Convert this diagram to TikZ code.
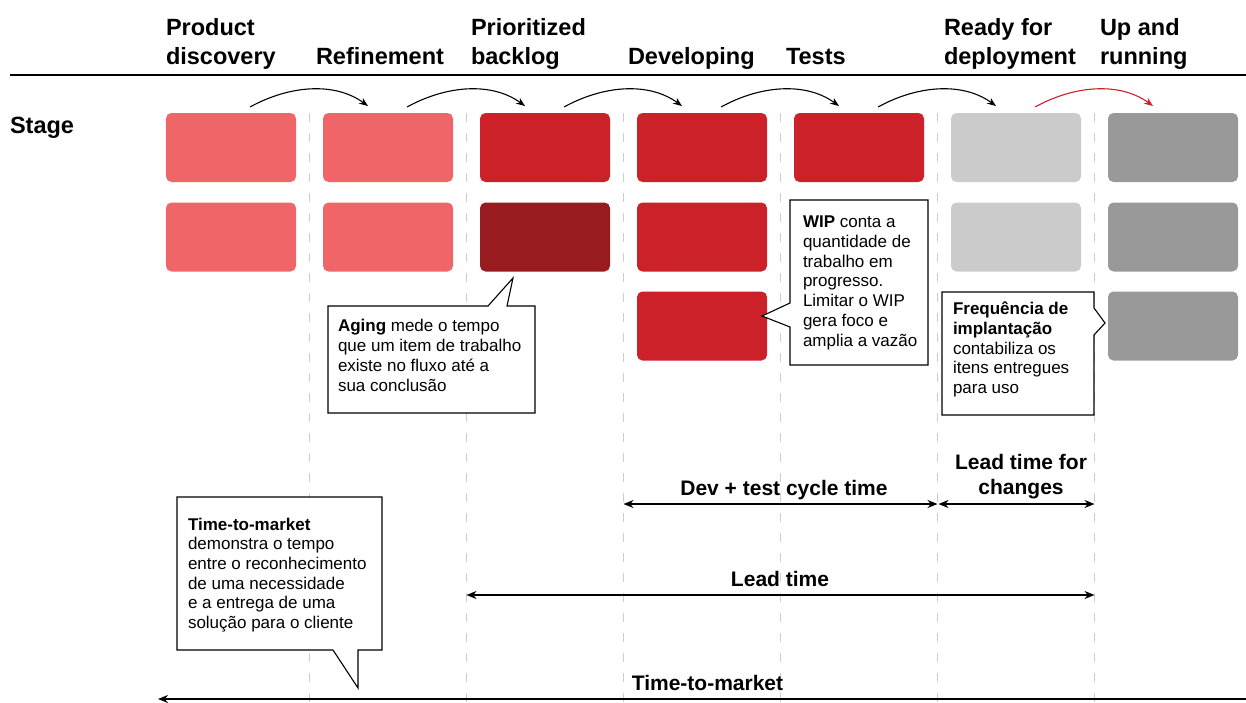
\documentclass[tikz,border=0pt]{standalone}
\usepackage{fontspec}
\setmainfont{Liberation Sans}
\usetikzlibrary{arrows.meta}

\definecolor{cardpink}{HTML}{F06668}
\definecolor{cardred}{HTML}{CC2129}
\definecolor{carddark}{HTML}{981B20}
\definecolor{cardlight}{HTML}{CBCBCB}
\definecolor{cardgray}{HTML}{999999}
\definecolor{lanegray}{HTML}{CCCCCC}

\begin{document}
\begin{tikzpicture}[x=1pt,y=-1pt,
  every node/.style={inner sep=0pt, outer sep=0pt},
  header/.style={anchor=base west, align=left, font=\bfseries\fontsize{23.5}{29}\selectfont},
  card/.style={rounded corners=5.5pt, minimum width=130pt, minimum height=69pt, anchor=north west},
  lane/.style={draw=lanegray, line width=1.2pt, dash pattern=on 9pt off 11pt},
  flow/.style={-{Stealth[length=9pt,width=7pt]}, line width=1.1pt},
  span/.style={line width=1.4pt, {Stealth[length=10pt,width=8pt]}-{Stealth[length=10pt,width=8pt]}},
  spanlabel/.style={anchor=base, align=center, font=\bfseries\fontsize{21}{25}\selectfont},
  callout/.style={draw=black, fill=white, line width=1.1pt, line join=miter},
  callouttext/.style={anchor=base west, align=left, font=\fontsize{17}{19.7}\selectfont},
]
\useasboundingbox (0,0) rectangle (1246,702);

% column headers (anchored at the baseline of their last line)
\node[header] (h1) at (166,64) {Product\\discovery};
\node[header] (h2) at (316,64) {Refinement};
\node[header] (h3) at (471,64) {Prioritized\\backlog};
\node[header] (h4) at (628,64) {Developing};
\node[header] (h5) at (786,64) {Tests};
\node[header] (h6) at (944,64) {Ready for\\deployment};
\node[header] (h7) at (1100,64) {Up and\\running};
\coordinate (rule-l) at (10,75);
\coordinate (rule-r) at (1246,75);
\draw[line width=1.3pt] (rule-l) -- (rule-r);

\node[header] (stage) at (10,133) {Stage};

% dashed lanes between columns
\foreach \i/\x in {1/309.5,2/466.5,3/623.5,4/780.5,5/937.5,6/1094.5}{
  \coordinate (lane\i-top) at (\x,113);
  \coordinate (lane\i-bot) at (\x,702);
  \draw[lane] (lane\i-top) -- (lane\i-bot);
}

% work item cards
\node[card, fill=cardpink]  (c11) at (166,113) {};
\node[card, fill=cardpink]  (c21) at (323,113) {};
\node[card, fill=cardred]   (c31) at (480,113) {};
\node[card, fill=cardred]   (c41) at (637,113) {};
\node[card, fill=cardred]   (c51) at (794,113) {};
\node[card, fill=cardlight] (c61) at (951,113) {};
\node[card, fill=cardgray]  (c71) at (1108,113) {};

\node[card, fill=cardpink]  (c12) at (166,202.5) {};
\node[card, fill=cardpink]  (c22) at (323,202.5) {};
\node[card, fill=carddark]  (c32) at (480,202.5) {};
\node[card, fill=cardred]   (c42) at (637,202.5) {};
\node[card, fill=cardlight] (c62) at (951,202.5) {};
\node[card, fill=cardgray]  (c72) at (1108,202.5) {};

\node[card, fill=cardred]   (c43) at (637,291.5) {};
\node[card, fill=cardgray]  (c73) at (1108,291.5) {};

% flow arrows between stages
\foreach \i/\j/\col in {1/2/black,2/3/black,3/4/black,4/5/black,5/6/black,6/7/cardred}{
  \draw[flow, draw=\col] ([xshift=84pt,yshift=6pt]c\i1.north west)
    .. controls +(40,-22) and +(-33,-24) .. ([xshift=45pt,yshift=7pt]c\j1.north west);
}

% callouts
\coordinate (ag-tip) at (513,278);
\draw[callout] (328,306) -- (488,306) -- (ag-tip) -- (507,306) -- (535,306)
  -- (535,413) -- (328,413) -- cycle;
\node[callouttext] (aging) at (338,391)
  {\textbf{Aging} mede o tempo\\que um item de trabalho\\existe no fluxo até a\\sua conclusão};

\coordinate (wip-tip) at (762,316);
\draw[callout] (790,200) -- (928,200) -- (928,365) -- (790,365) -- (790,327)
  -- (wip-tip) -- (790,303) -- cycle;
\node[callouttext] (wip) at (803,346)
  {\textbf{WIP} conta a\\quantidade de\\trabalho em\\progresso.\\Limitar o WIP\\gera foco e\\amplia a vazão};

\coordinate (fr-tip) at (1105,323);
\draw[callout] (942,292) -- (1094,292) -- (1094,308) -- (fr-tip) -- (1094,335)
  -- (1094,415) -- (942,415) -- cycle;
\node[callouttext] (freq) at (953,393.5)
  {\textbf{Frequência de}\\\textbf{implantação}\\contabiliza os\\itens entregues\\para uso};

\coordinate (ttm-tip) at (358,688);
\draw[callout] (177,497) -- (382,497) -- (382,650) -- (358,650) -- (ttm-tip)
  -- (333,650) -- (177,650) -- cycle;
\node[callouttext] (ttm) at (188,628.5)
  {\textbf{Time-to-market}\\demonstra o tempo\\entre o reconhecimento\\de uma necessidade\\e a entrega de uma\\solução para o cliente};

% measured spans
\coordinate (dev-l) at (623.5,504);
\coordinate (dev-r) at (937.5,504);
\coordinate (ltc-l) at (938.5,504);
\coordinate (ltc-r) at (1094.5,504);
\coordinate (lt-l) at (466.5,595);
\coordinate (lt-r) at (1094.5,595);
\coordinate (tm-r) at (1246,699);
\coordinate (tm-l) at (158,699);

\draw[span] (dev-l) -- (dev-r);
\draw[span] (ltc-l) -- (ltc-r);
\draw[span] (lt-l) -- (lt-r);
\draw[line width=1.6pt, -{Stealth[length=10pt,width=8pt]}] (tm-r) -- (tm-l);

\node[spanlabel] (devlabel) at (784,495) {Dev + test cycle time};
\node[spanlabel] (ltclabel) at (1021,494) {Lead time for\\changes};
\node[spanlabel] (ltlabel) at (780,586) {Lead time};
\node[spanlabel] (tmlabel) at (707.5,690) {Time-to-market};
\end{tikzpicture}
\end{document}
